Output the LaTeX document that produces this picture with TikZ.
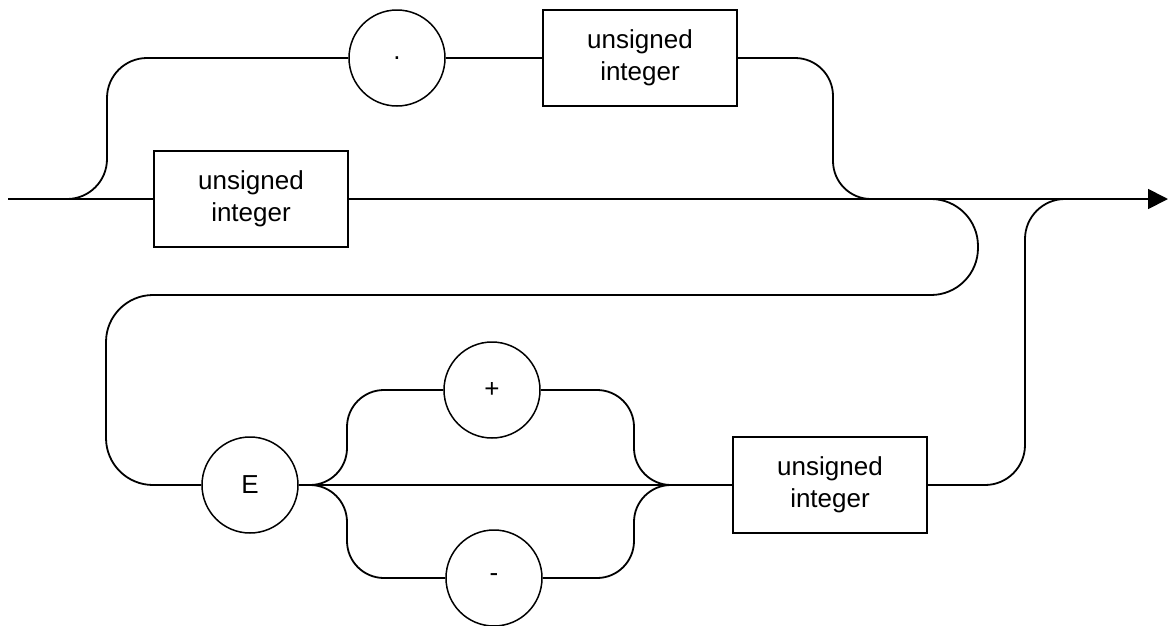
\documentclass[tikz,border=0pt]{standalone}
\usepackage{fontspec}
\setmainfont{Liberation Sans}
\usetikzlibrary{arrows.meta}
\begin{document}
\begin{tikzpicture}[x=1pt,y=-1pt,line width=1.8pt,
  term/.style={circle,draw,line width=1.5pt,minimum size=96pt,inner sep=0pt,
    font=\fontsize{26}{32}\selectfont},
  nterm/.style={rectangle,draw,line width=1.6pt,minimum width=194pt,minimum height=96pt,
    align=center,inner sep=0pt,font=\fontsize{26}{32}\selectfont},
  rc/.style={rounded corners=#1}]
\useasboundingbox (0,0) rectangle (1168,625);
% nodes
\node[term]  (dot)   at (397,58)  {.};
\node[nterm] (top)   at (640,58)  {unsigned\\integer};
\node[nterm] (ui1)   at (251,199) {unsigned\\integer};
\node[term]  (E)     at (250,485) {E};
\node[term]  (plus)  at (492,390) {+};
\node[term]  (minus) at (494,578) {-};
\node[nterm] (ui2)   at (830,485) {unsigned\\integer};
% free coordinates
\coordinate (in)  at (8,199);
\coordinate (out) at (1168,199);
\coordinate (s1)  at (107,199);
\coordinate (s2)  at (833,199);
\coordinate (lp0) at (900,199);
\coordinate (lp1) at (978,199);
\coordinate (lp2) at (978,295);
\coordinate (lp3) at (106,295);
\coordinate (s3)  at (347,485);
\coordinate (s4)  at (634,485);
\coordinate (s5)  at (1025,199);
% connectors
\draw (in) -- (ui1.west);
\draw[-{Triangle[length=20pt,width=20pt]}] (ui1.east) -- (out);
\draw[rc=40] (in) -- (s1) |- (dot.west);
\draw (dot.east) -- (top.west);
\draw[rc=38] (top.east) -| (s2) -- ++(40,0);
\draw[rc=47] (lp0) -- (lp1) -- (lp2) -- (lp3) |- (E.west);
\draw (E.east) -- (ui2.west);
\draw[rc=37] (E.east) -- (s3) |- (plus.west);
\draw[rc=37] (E.east) -- (s3) |- (minus.west);
\draw[rc=37] (plus.east) -| (s4) -- (ui2.west);
\draw[rc=37] (minus.east) -| (s4) -- (ui2.west);
\draw[rc=40] (ui2.east) -| (s5) -- ++(45,0);
\end{tikzpicture}
\end{document}
